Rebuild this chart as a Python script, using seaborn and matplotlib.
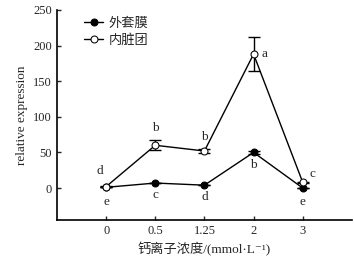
import numpy as np
import pandas as pd
import matplotlib
matplotlib.use('Agg')
import matplotlib.pyplot as plt
import seaborn as sns

# 数据
conc_labels = ['0', '0.5', '1.25', '2', '3']
mantle = [1, 7, 4, 50, 0]            # 外套膜
mantle_err = [0, 0, 0, 2, 0]
visceral = [2, 60, 52, 188, 8]       # 内脏团
visceral_err = [1, 7, 3, 24, 1]
mantle_letters = ['e', 'c', 'd', 'b', 'e']
visceral_letters = ['d', 'b', 'b', 'a', 'c']

sns.set_theme(style='ticks')
plt.rcParams['font.family'] = ['Liberation Serif', 'Noto Sans CJK SC', 'DejaVu Sans']

x = np.arange(len(conc_labels))
df = pd.DataFrame({'x': np.concatenate([x, x]),
                   'y': mantle + visceral,
                   'grp': ['外套膜'] * 5 + ['内脏团'] * 5})

fig = plt.figure(figsize=(3.54, 2.62), dpi=100)
ax = fig.add_axes([0.161, 0.160, 0.833, 0.802])

ax.errorbar(x, visceral, yerr=visceral_err, fmt='none', ecolor='black',
            elinewidth=1, capsize=4, capthick=1, zorder=1)
ax.errorbar(x, mantle, yerr=mantle_err, fmt='none', ecolor='black',
            elinewidth=1, capsize=4, capthick=1, zorder=1)
sns.lineplot(data=df[df.grp == '外套膜'], x='x', y='y', ax=ax, color='black',
             lw=1, marker='o', markersize=5, markerfacecolor='black',
             markeredgecolor='black', label='外套膜', zorder=3)
sns.lineplot(data=df[df.grp == '内脏团'], x='x', y='y', ax=ax, color='black',
             lw=1, marker='o', markersize=5, markerfacecolor='white',
             markeredgecolor='black', label='内脏团', zorder=3)

# 显著性字母
v_off = [(-0.12, 22), (0, 17), (0, 17), (0.22, 0), (0.2, 12)]
m_off = [(0, -21), (0, -17), (0, -16), (0, -18), (0, -19)]
for i in range(5):
    dx, dy = v_off[i]
    ax.text(x[i] + dx, visceral[i] + visceral_err[i] * (i == 1 or i == 2) + dy,
            visceral_letters[i], ha='center', va='center', fontsize=9.5)
    dx, dy = m_off[i]
    ax.text(x[i] + dx, mantle[i] + dy, mantle_letters[i],
            ha='center', va='center', fontsize=9.5)

ax.set_xlim(-1, 5)
ax.set_ylim(-45, 250)
ax.set_xticks(x)
ax.set_xticklabels(conc_labels)
ax.set_yticks([0, 50, 100, 150, 200, 250])
ax.tick_params(direction='in', length=3, labelsize=9, width=1)
ax.set_xlabel('钙离子浓度/(mmol·L⁻¹)', fontsize=9.5)
ax.set_ylabel('relative expression', fontsize=9.5)
sns.despine(ax=ax)
for s in ['left', 'bottom']:
    ax.spines[s].set_linewidth(1.2)
    ax.spines[s].set_color('black')

ax.legend(loc='upper left', bbox_to_anchor=(0.05, 1.02), frameon=False,
          fontsize=9.5, handlelength=1.5, handletextpad=0.4, labelspacing=0.3)

fig.savefig('out.png', dpi=100)
